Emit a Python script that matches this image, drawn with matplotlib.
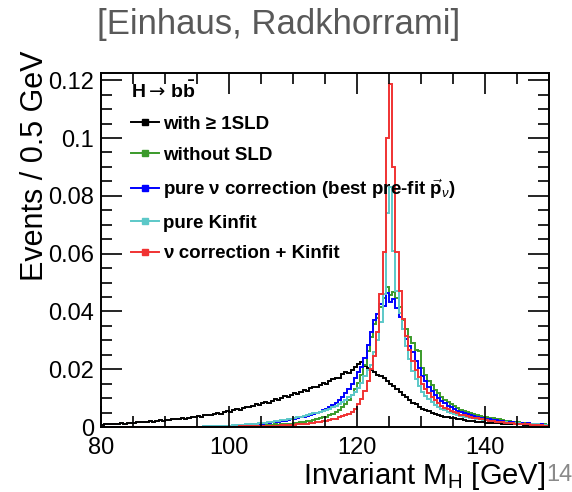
import numpy as np
import matplotlib.pyplot as plt
from matplotlib.lines import Line2D
from matplotlib.ticker import MultipleLocator

plt.rcParams['font.family'] = ['Liberation Sans', 'DejaVu Sans']
plt.rcParams['mathtext.fontset'] = 'custom'
plt.rcParams['mathtext.rm'] = 'Liberation Sans'
plt.rcParams['mathtext.it'] = 'Liberation Sans:italic'
plt.rcParams['mathtext.bf'] = 'Liberation Sans:bold'
plt.rcParams['mathtext.sf'] = 'DejaVu Sans'

# 0.5 GeV bins from 80 to 150 GeV
edges = np.linspace(80, 150, 141)

with_sld = [
    0.0008, 0.0009, 0.0010, 0.0011, 0.0010, 0.0012, 0.0013, 0.0012, 0.0014, 0.0015,
    0.0015, 0.0017, 0.0016, 0.0018, 0.0019, 0.0020, 0.0019, 0.0022, 0.0023, 0.0022,
    0.0024, 0.0025, 0.0027, 0.0026, 0.0029, 0.0030, 0.0028, 0.0032, 0.0034, 0.0033,
    0.0037, 0.0036, 0.0040, 0.0043, 0.0041, 0.0045, 0.0048, 0.0046, 0.0051, 0.0055,
    0.0053, 0.0058, 0.0062, 0.0060, 0.0066, 0.0070, 0.0068, 0.0074, 0.0079, 0.0076,
    0.0083, 0.0087, 0.0084, 0.0091, 0.0096, 0.0093, 0.0101, 0.0106, 0.0103, 0.0112,
    0.0117, 0.0114, 0.0122, 0.0128, 0.0125, 0.0134, 0.0140, 0.0137, 0.0146, 0.0152,
    0.0149, 0.0160, 0.0166, 0.0171, 0.0168, 0.0182, 0.0190, 0.0186, 0.0198, 0.0207,
    0.0218, 0.0226, 0.0212, 0.0205, 0.0198, 0.0190, 0.0181, 0.0175, 0.0168, 0.0160,
    0.0150, 0.0141, 0.0133, 0.0120, 0.0112, 0.0103, 0.0094, 0.0083, 0.0078, 0.0069,
    0.0063, 0.0060, 0.0054, 0.0049, 0.0046, 0.0043, 0.0038, 0.0036, 0.0033, 0.0031,
    0.0030, 0.0027, 0.0026, 0.0024, 0.0022, 0.0021, 0.0020, 0.0018, 0.0018, 0.0016,
    0.0015, 0.0015, 0.0014, 0.0013, 0.0013, 0.0012, 0.0011, 0.0012, 0.0010, 0.0010,
    0.0009, 0.0009, 0.0008, 0.0008, 0.0007, 0.0007, 0.0006, 0.0006, 0.0006, 0.0005,
]

without_sld = [
    0.0000, 0.0000, 0.0000, 0.0000, 0.0000, 0.0000, 0.0000, 0.0000, 0.0000, 0.0000,
    0.0000, 0.0000, 0.0000, 0.0000, 0.0000, 0.0000, 0.0000, 0.0000, 0.0000, 0.0000,
    0.0000, 0.0000, 0.0000, 0.0000, 0.0001, 0.0000, 0.0001, 0.0001, 0.0001, 0.0001,
    0.0001, 0.0001, 0.0001, 0.0002, 0.0001, 0.0002, 0.0002, 0.0002, 0.0003, 0.0002,
    0.0003, 0.0003, 0.0004, 0.0003, 0.0004, 0.0005, 0.0004, 0.0005, 0.0006, 0.0005,
    0.0006, 0.0007, 0.0007, 0.0008, 0.0009, 0.0008, 0.0010, 0.0011, 0.0012, 0.0012,
    0.0014, 0.0015, 0.0017, 0.0018, 0.0021, 0.0022, 0.0025, 0.0027, 0.0031, 0.0033,
    0.0036, 0.0040, 0.0046, 0.0052, 0.0060, 0.0068, 0.0080, 0.0094, 0.0112, 0.0130,
    0.0152, 0.0180, 0.0215, 0.0262, 0.0310, 0.0355, 0.0378, 0.0415, 0.0445, 0.0484,
    0.0458, 0.0466, 0.0448, 0.0415, 0.0372, 0.0340, 0.0312, 0.0290, 0.0268, 0.0262,
    0.0205, 0.0180, 0.0160, 0.0146, 0.0128, 0.0116, 0.0104, 0.0095, 0.0086, 0.0079,
    0.0071, 0.0065, 0.0060, 0.0055, 0.0052, 0.0048, 0.0045, 0.0041, 0.0038, 0.0036,
    0.0034, 0.0031, 0.0030, 0.0027, 0.0026, 0.0024, 0.0022, 0.0021, 0.0019, 0.0018,
    0.0017, 0.0015, 0.0014, 0.0014, 0.0012, 0.0011, 0.0011, 0.0010, 0.0009, 0.0008,
]

nu_correction = [
    0.0000, 0.0000, 0.0000, 0.0000, 0.0000, 0.0000, 0.0000, 0.0000, 0.0000, 0.0000,
    0.0000, 0.0000, 0.0000, 0.0000, 0.0000, 0.0000, 0.0000, 0.0000, 0.0000, 0.0000,
    0.0000, 0.0000, 0.0000, 0.0001, 0.0000, 0.0001, 0.0001, 0.0001, 0.0001, 0.0001,
    0.0001, 0.0001, 0.0002, 0.0002, 0.0002, 0.0003, 0.0003, 0.0003, 0.0004, 0.0004,
    0.0005, 0.0005, 0.0006, 0.0006, 0.0007, 0.0008, 0.0008, 0.0009, 0.0010, 0.0011,
    0.0012, 0.0013, 0.0014, 0.0016, 0.0017, 0.0019, 0.0020, 0.0022, 0.0024, 0.0026,
    0.0028, 0.0030, 0.0033, 0.0036, 0.0039, 0.0042, 0.0046, 0.0050, 0.0053, 0.0058,
    0.0063, 0.0069, 0.0076, 0.0084, 0.0093, 0.0104, 0.0116, 0.0130, 0.0150, 0.0170,
    0.0192, 0.0208, 0.0238, 0.0285, 0.0330, 0.0372, 0.0392, 0.0425, 0.0418, 0.0465,
    0.0432, 0.0442, 0.0412, 0.0380, 0.0340, 0.0305, 0.0282, 0.0258, 0.0228, 0.0205,
    0.0178, 0.0158, 0.0140, 0.0124, 0.0110, 0.0099, 0.0090, 0.0082, 0.0074, 0.0068,
    0.0062, 0.0056, 0.0052, 0.0048, 0.0044, 0.0040, 0.0037, 0.0034, 0.0032, 0.0030,
    0.0028, 0.0026, 0.0024, 0.0023, 0.0021, 0.0020, 0.0019, 0.0017, 0.0016, 0.0015,
    0.0014, 0.0013, 0.0012, 0.0013, 0.0011, 0.0010, 0.0009, 0.0009, 0.0008, 0.0008,
]

pure_kinfit = [
    0.0000, 0.0000, 0.0000, 0.0000, 0.0000, 0.0000, 0.0000, 0.0000, 0.0000, 0.0000,
    0.0000, 0.0000, 0.0000, 0.0000, 0.0000, 0.0000, 0.0000, 0.0000, 0.0000, 0.0000,
    0.0000, 0.0000, 0.0000, 0.0001, 0.0000, 0.0001, 0.0001, 0.0001, 0.0001, 0.0001,
    0.0001, 0.0001, 0.0002, 0.0002, 0.0002, 0.0003, 0.0003, 0.0004, 0.0004, 0.0005,
    0.0005, 0.0006, 0.0007, 0.0007, 0.0008, 0.0009, 0.0010, 0.0011, 0.0012, 0.0013,
    0.0014, 0.0015, 0.0017, 0.0018, 0.0020, 0.0021, 0.0023, 0.0025, 0.0027, 0.0029,
    0.0031, 0.0033, 0.0036, 0.0038, 0.0041, 0.0044, 0.0047, 0.0050, 0.0053, 0.0056,
    0.0060, 0.0064, 0.0068, 0.0073, 0.0080, 0.0086, 0.0094, 0.0104, 0.0112, 0.0122,
    0.0135, 0.0152, 0.0175, 0.0198, 0.0215, 0.0260, 0.0300, 0.0365, 0.0460, 0.0740,
    0.0830, 0.0610, 0.0470, 0.0395, 0.0340, 0.0280, 0.0235, 0.0195, 0.0165, 0.0142,
    0.0122, 0.0108, 0.0096, 0.0086, 0.0077, 0.0070, 0.0064, 0.0058, 0.0053, 0.0049,
    0.0045, 0.0042, 0.0039, 0.0036, 0.0034, 0.0032, 0.0030, 0.0028, 0.0026, 0.0025,
    0.0023, 0.0022, 0.0021, 0.0019, 0.0018, 0.0017, 0.0016, 0.0015, 0.0014, 0.0014,
    0.0013, 0.0012, 0.0011, 0.0011, 0.0010, 0.0009, 0.0009, 0.0008, 0.0008, 0.0007,
]

nu_plus_kinfit = [
    0.0000, 0.0000, 0.0000, 0.0000, 0.0000, 0.0000, 0.0000, 0.0000, 0.0000, 0.0000,
    0.0000, 0.0000, 0.0000, 0.0000, 0.0000, 0.0000, 0.0000, 0.0000, 0.0000, 0.0000,
    0.0000, 0.0000, 0.0000, 0.0000, 0.0000, 0.0000, 0.0000, 0.0000, 0.0000, 0.0000,
    0.0000, 0.0000, 0.0000, 0.0000, 0.0000, 0.0000, 0.0001, 0.0000, 0.0001, 0.0001,
    0.0001, 0.0001, 0.0001, 0.0002, 0.0002, 0.0002, 0.0002, 0.0003, 0.0003, 0.0003,
    0.0003, 0.0004, 0.0004, 0.0004, 0.0005, 0.0005, 0.0006, 0.0006, 0.0007, 0.0007,
    0.0008, 0.0009, 0.0010, 0.0011, 0.0012, 0.0013, 0.0014, 0.0016, 0.0018, 0.0020,
    0.0021, 0.0023, 0.0026, 0.0029, 0.0033, 0.0037, 0.0041, 0.0046, 0.0053, 0.0062,
    0.0078, 0.0098, 0.0125, 0.0160, 0.0200, 0.0245, 0.0330, 0.0460, 0.0605, 0.1000,
    0.1187, 0.0900, 0.0605, 0.0470, 0.0375, 0.0315, 0.0268, 0.0230, 0.0198, 0.0172,
    0.0150, 0.0133, 0.0118, 0.0104, 0.0092, 0.0082, 0.0074, 0.0067, 0.0061, 0.0056,
    0.0051, 0.0047, 0.0043, 0.0040, 0.0037, 0.0034, 0.0032, 0.0030, 0.0028, 0.0026,
    0.0024, 0.0022, 0.0021, 0.0019, 0.0018, 0.0017, 0.0015, 0.0014, 0.0013, 0.0012,
    0.0011, 0.0010, 0.0009, 0.0009, 0.0008, 0.0007, 0.0006, 0.0006, 0.0005, 0.0005,
]

series = [
    (with_sld, 'black', 'with ≥ 1SLD'),
    (without_sld, '#3a9a2a', 'without SLD'),
    (nu_correction, '#0000ff', r'pure ν correction (best pre-fit $\vec{\mathbf{p}}_{\nu}$)'),
    (pure_kinfit, '#5cc8c8', 'pure Kinfit'),
    (nu_plus_kinfit, '#f03232', 'ν correction + Kinfit'),
]

fig = plt.figure(figsize=(5.72, 4.92), dpi=100)
ax = fig.add_axes([0.1766, 0.1321, 0.7832, 0.7195])

handles = []
for vals, col, lab in series:
    ax.stairs(vals, edges, color=col, lw=1.4)
    handles.append(Line2D([], [], color=col, lw=1.4, marker='s', markersize=5, label=lab))

ax.set_xlim(80, 150)
ax.set_ylim(0, 0.1225)
ax.xaxis.set_major_locator(MultipleLocator(20))
ax.xaxis.set_minor_locator(MultipleLocator(5))
ax.yaxis.set_minor_locator(MultipleLocator(0.005))
ax.set_yticks([0, 0.02, 0.04, 0.06, 0.08, 0.1, 0.12])
ax.set_yticklabels(['0', '0.02', '0.04', '0.06', '0.08', '0.1', '0.12'])
ax.tick_params(which='both', direction='in', top=True, right=True, width=1.2, labelsize=17)
ax.tick_params(which='major', length=15)
ax.tick_params(which='minor', length=8)
ax.tick_params(axis='x', pad=7)
ax.tick_params(axis='y', pad=5)
for s in ax.spines.values():
    s.set_linewidth(1.4)

leg = ax.legend(handles=handles, loc='upper left', bbox_to_anchor=(0.05, 0.998),
                frameon=False, title=r'$\mathbf{H}\mathsf{\rightarrow}\,\mathbf{b\bar{b}}$',
                prop={'family': 'Liberation Sans', 'weight': 'bold', 'size': 13.5},
                title_fontsize=14, alignment='left', handlelength=1.5,
                handletextpad=0.2, labelspacing=0.72, borderaxespad=0)

fig.text(0.062, 0.898, 'Events / 0.5 GeV', rotation=90, ha='center', va='top',
         fontsize=22)
fig.text(0.953, 0.017, r'Invariant M$_{\mathrm{H}}$ [GeV]', ha='right', va='baseline',
         fontsize=21)
fig.text(0.487, 0.93, '[Einhaus, Radkhorrami]', ha='center', va='baseline',
         fontsize=25, color='#595959')
fig.text(0.955, 0.022, '14', ha='left', va='baseline', fontsize=17, color='#8a8a8a')

fig.savefig('out.png', dpi=100)
